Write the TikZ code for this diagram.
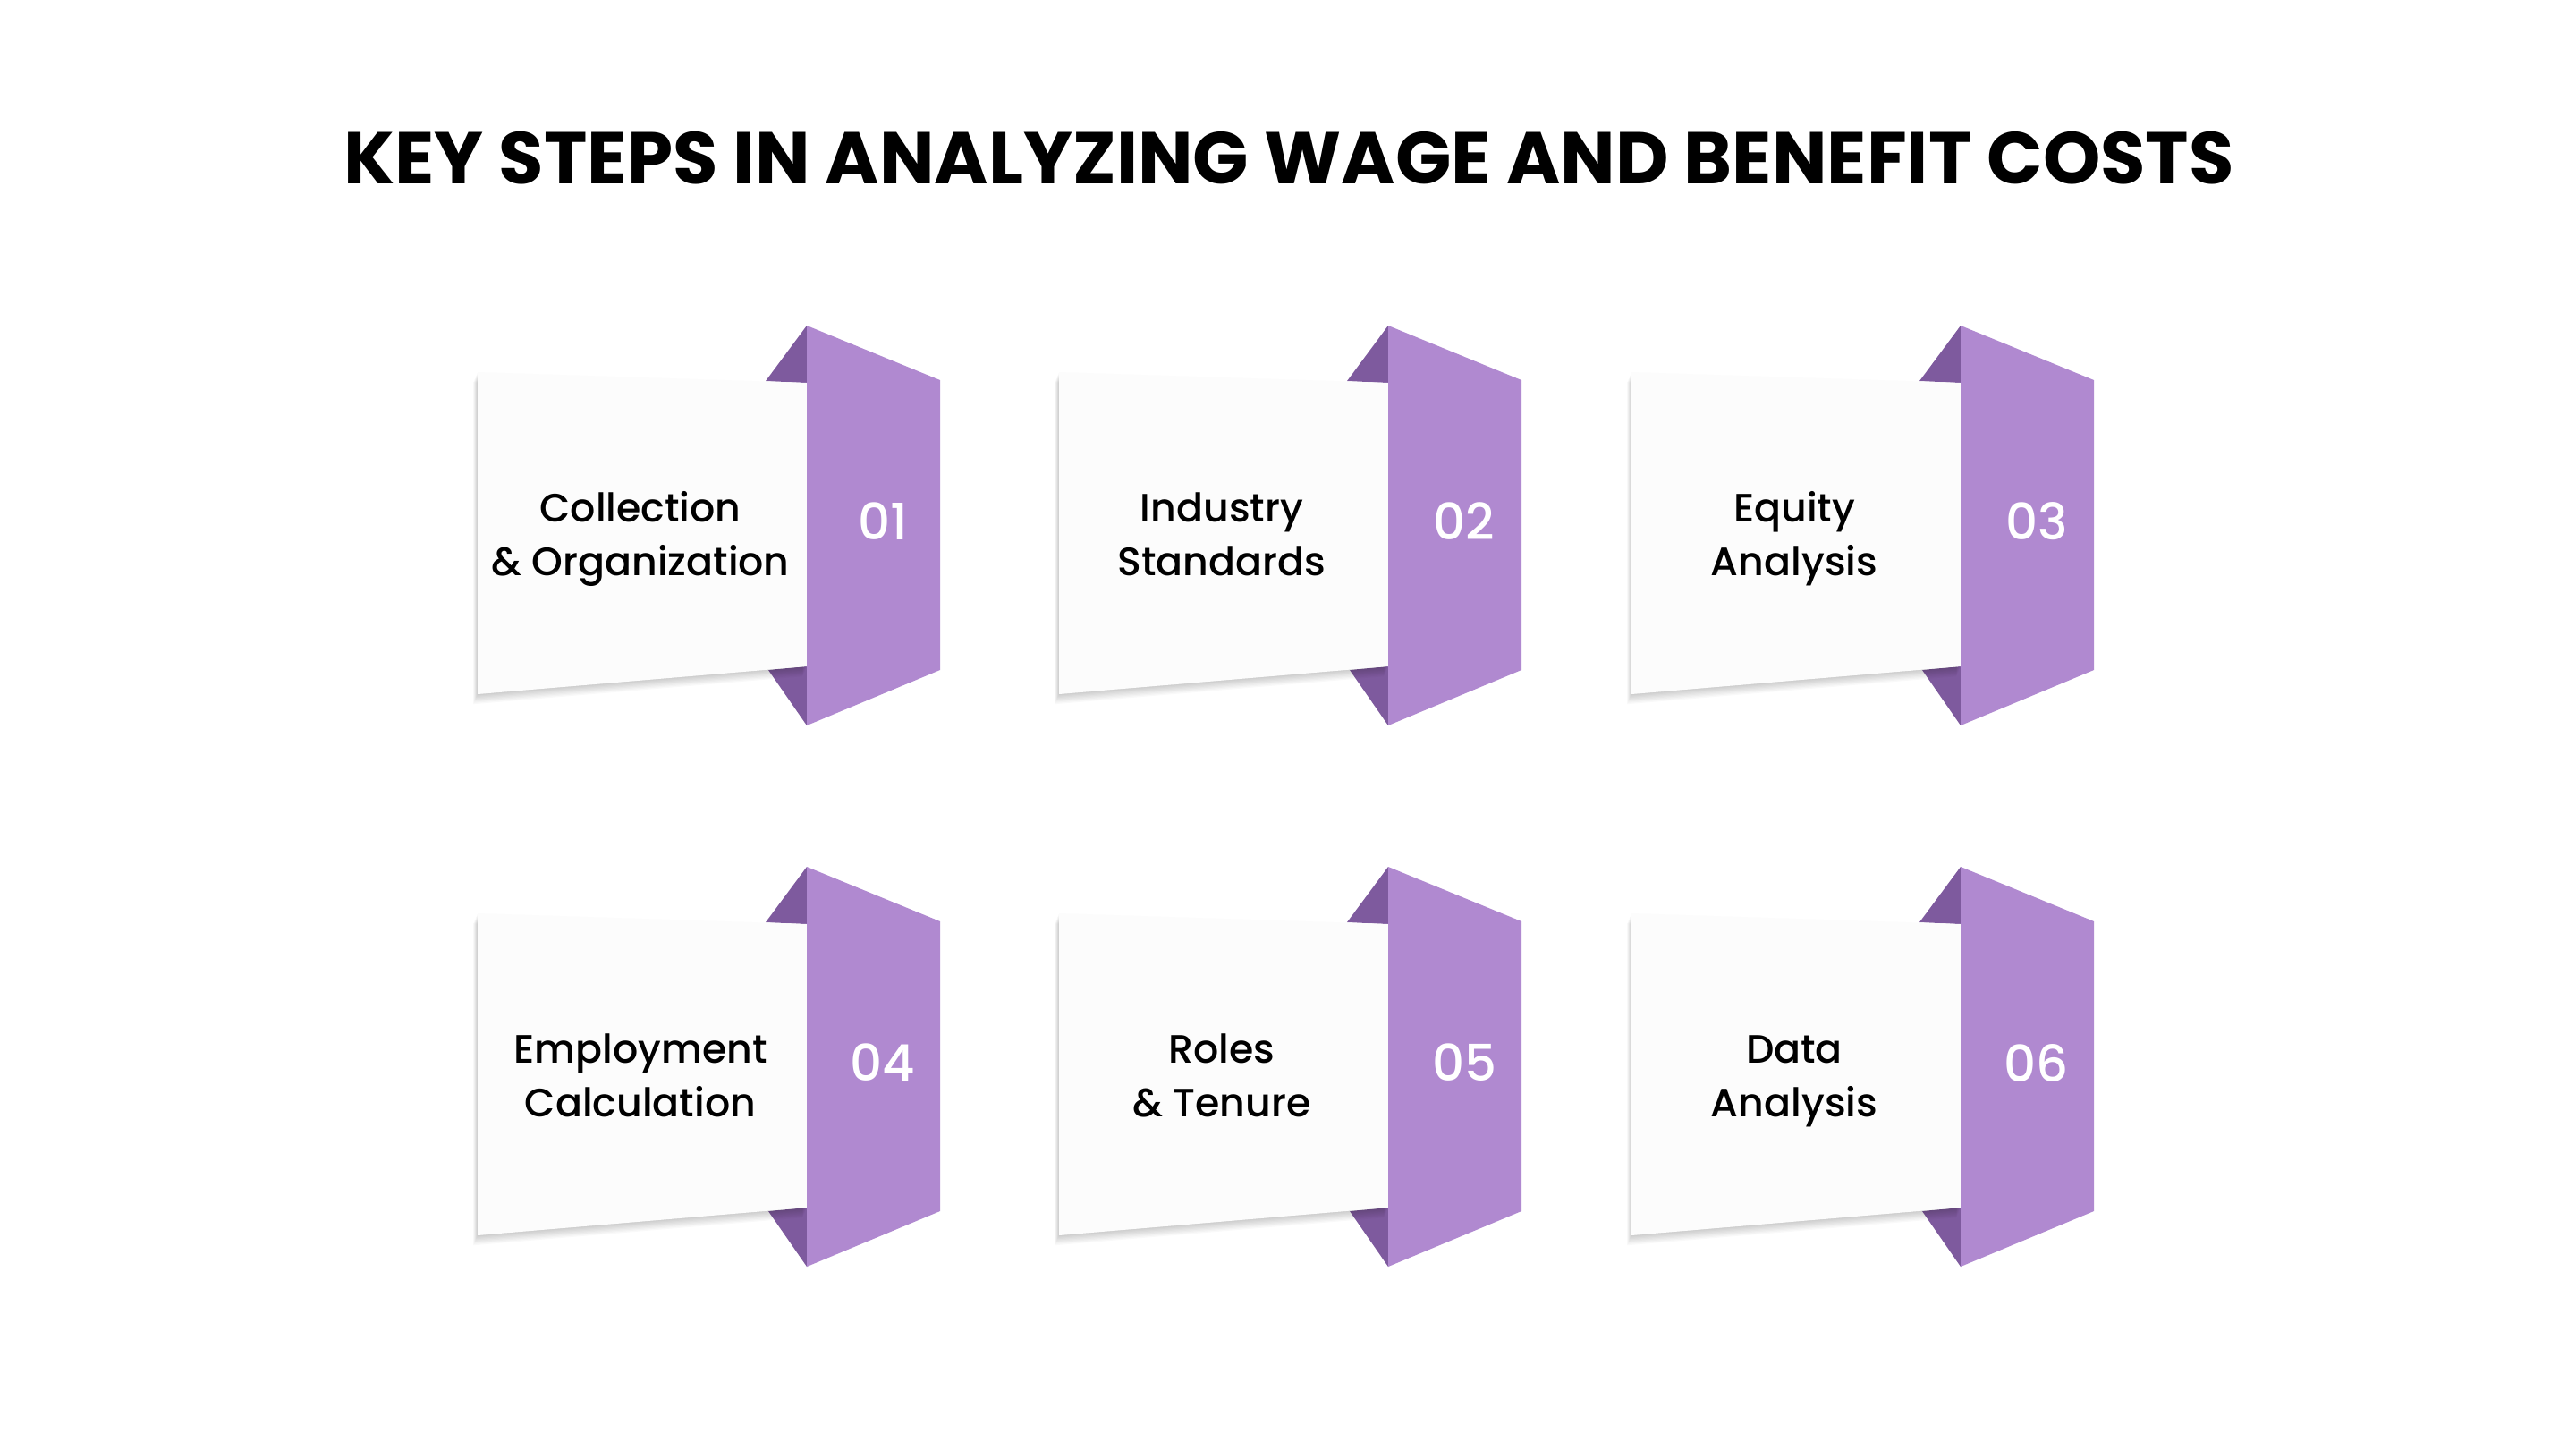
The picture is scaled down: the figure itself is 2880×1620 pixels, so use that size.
\documentclass[tikz,border=0pt]{standalone}
\usepackage{fontspec}
\setmainfont{Poppins}
\newfontfamily\CardFont{Poppins}[UprightFont={* Medium}]
\usepackage{tikz}
\usepackage{xcolor}
\definecolor{FoldLight}{RGB}{176,137,208}
\definecolor{FoldDark}{RGB}{126,90,158}
\definecolor{FaceCol}{RGB}{252,252,252}
\tikzstyle{CardFace}=[fill=FaceCol]
\tikzstyle{CardShade}=[fill=black,opacity=0.022]
\tikzstyle{CardText}=[align=center,anchor=base,inner sep=0pt,
font=\CardFont\fontsize{12.6}{17}\selectfont]
\tikzstyle{CardNum}=[white,inner sep=0pt,font=\CardFont\fontsize{16}{18}\selectfont]
\tikzstyle{TitleText}=[inner sep=0pt,font=\bfseries\fontsize{23.3}{26}\selectfont]
% one step card: fold x, apex y, name, label, number
\newcommand{\StepCard}[5]{%
  \begin{scope}[shift={(#1,#2)}]
    \fill[FoldDark](0,0)--(-46,62)--(0,64)--cycle;
    \fill[FoldDark](0,447)--(-43,385)--(0,381)--cycle;
    \foreach\s in{1,...,8}
      \fill[CardShade,shift={(-0.6*\s,1.4*\s)}](-368,52)--(0,64)--(0,381)--(-368,412)--cycle;
    \fill[CardFace](-368,52)--(0,64)--(0,381)--(-368,412)--cycle;
    \fill[FoldLight](0,0)--(149,61)--(149,385)--(0,447)--cycle;
    \node[CardText](#3t)at(-186,279){#4};
    \node[CardNum](#3n)at(85,219){#5};
  \end{scope}}

\begin{document}
\begin{tikzpicture}[x=0.1mm,y=-0.1mm]
    \fill[white](0,0)rectangle(2880,1620);
    \useasboundingbox(0,0)rectangle(2880,1620);
    \node[TitleText](title)at(1441,177){KEY STEPS IN ANALYZING WAGE AND BENEFIT COSTS};
    % top row
    \StepCard{902}{364}{c1}{Collection\\\& Organization}{01}
    \StepCard{1552}{364}{c2}{Industry\\Standards}{02}
    \StepCard{2192}{364}{c3}{Equity\\Analysis}{03}
    % bottom row
    \StepCard{902}{969}{c4}{Employment\\Calculation}{04}
    \StepCard{1552}{969}{c5}{Roles\\\& Tenure}{05}
    \StepCard{2192}{969}{c6}{Data\\Analysis}{06}
\end{tikzpicture}
\end{document}
